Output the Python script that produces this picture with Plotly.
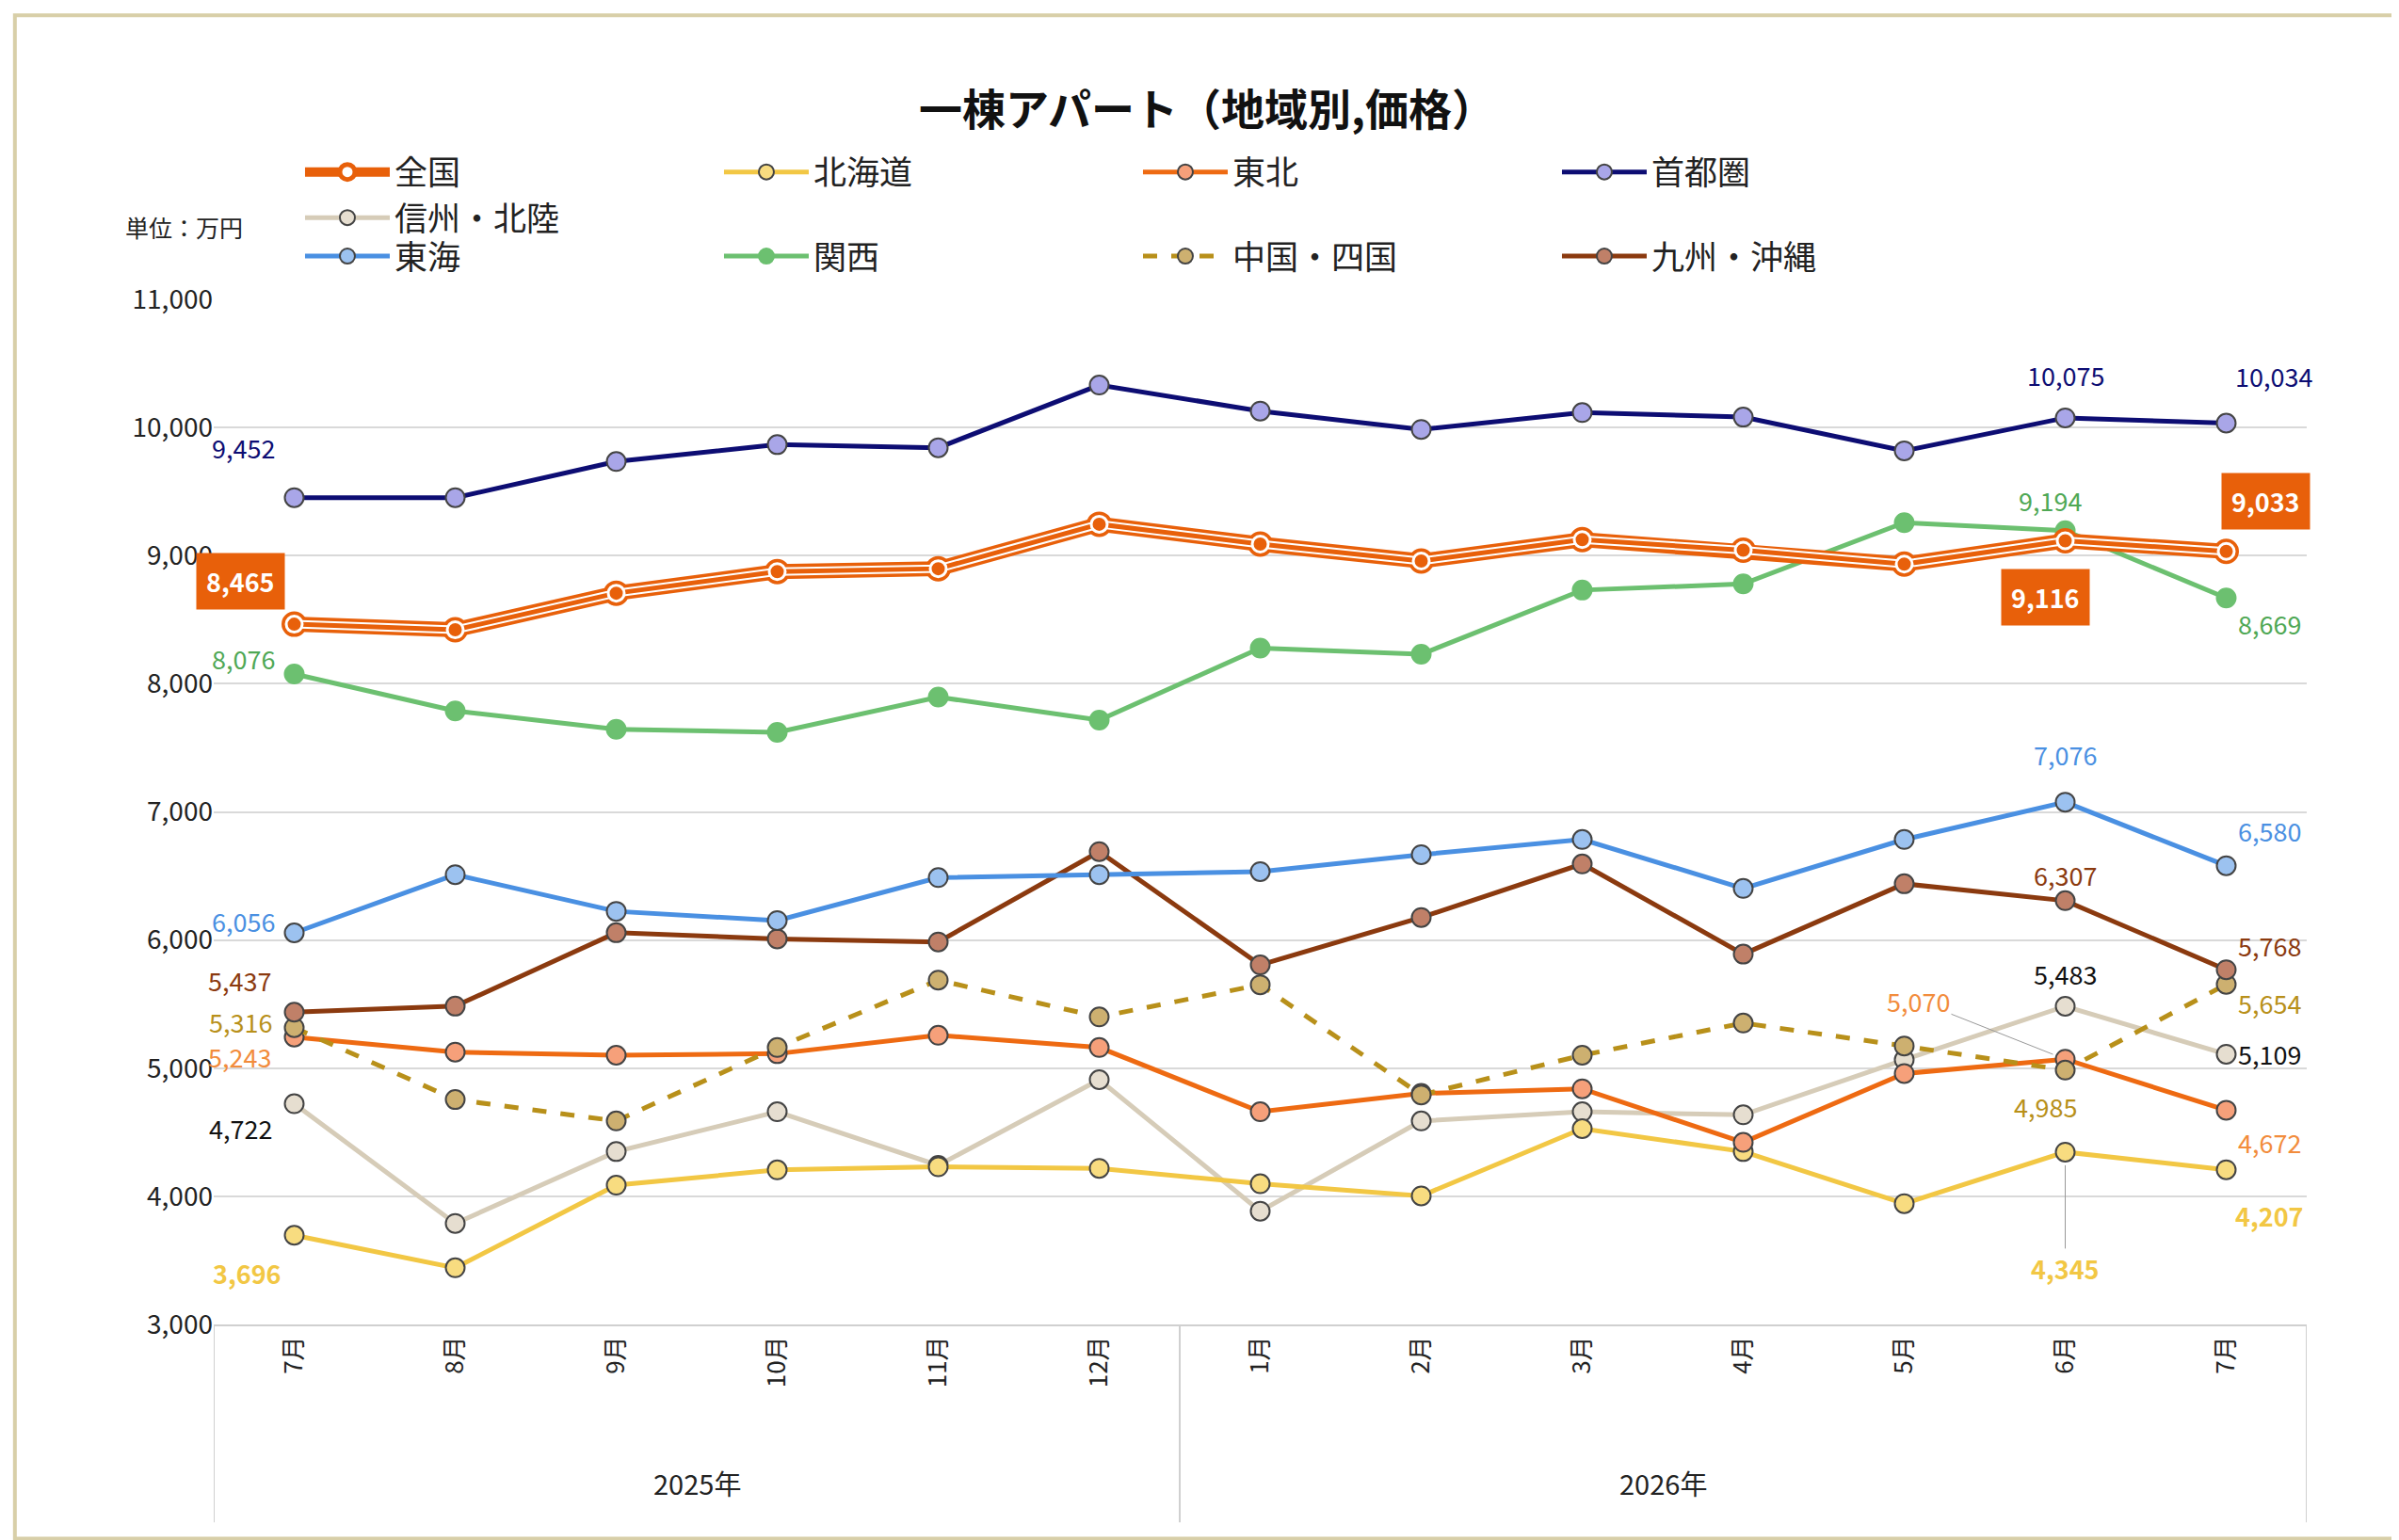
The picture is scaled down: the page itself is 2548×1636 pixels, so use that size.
import plotly.graph_objects as go

months = ["7月","8月","9月","10月","11月","12月","1月","2月","3月","4月","5月","6月","7月"]
years = ["2025年", "2026年"]
zenkoku = [8465,8421,8707,8875,8898,9245,9090,8958,9125,9042,8934,9116,9033]
hokkaido = [3696,3442,4087,4206,4230,4218,4098,4003,4528,4349,3943,4345,4207]
tohoku = [5243,5125,5101,5113,5257,5161,4660,4803,4839,4421,4958,5070,4672]
shutoken = [9452,9452,9734,9866,9842,10331,10128,9985,10116,10081,9818,10075,10034]
shinshu = [4722,3788,4349,4660,4242,4910,3884,4588,4660,4636,5066,5483,5109]
tokai = [6056,6510,6224,6152,6487,6510,6534,6666,6785,6403,6785,7076,6580]
kansai = [8076,7788,7645,7621,7896,7716,8278,8230,8731,8779,9257,9194,8669]
chugoku = [5316,4755,4588,5161,5687,5400,5651,4791,5101,5352,5173,4985,5654]
kyushu = [5437,5484,6057,6009,5985,6690,5806,6176,6594,5890,6439,6307,5768]

x = list(range(len(months)))
FONT = "Noto Sans CJK JP"
fig = go.Figure()

series = [
    ("全国", zenkoku, "#E8600A", "#FFFFFF", "solid", "legend"),
    ("北海道", hokkaido, "#F2C744", "#F8DC80", "solid", "legend"),
    ("東北", tohoku, "#EE6A12", "#F6A07A", "solid", "legend"),
    ("首都圏", shutoken, "#0D0D73", "#A9A6E8", "solid", "legend"),
    ("信州・北陸", shinshu, "#D6CCB8", "#E6DED0", "solid", "legend"),
    ("東海", tokai, "#4A90E2", "#9CC2F0", "solid", "legend2"),
    ("関西", kansai, "#6CC070", "#6CC070", "solid", "legend2"),
    ("中国・四国", chugoku, "#B8901A", "#CDB070", "dash", "legend2"),
    ("九州・沖縄", kyushu, "#8B3A0F", "#C08068", "solid", "legend2"),
]
order = [4,1,2,7,8,5,6,3,0]
for i in order:
    name, ys, c, mc, dash, lg = series[i]
    if name == "全国":
        fig.add_trace(go.Scatter(x=x, y=ys, name=name, mode="lines+markers", legend=lg,
            line=dict(color=c, width=16), marker=dict(size=22, color="white", line=dict(color=c, width=5)),
            legendrank=1))
        fig.add_trace(go.Scatter(x=x, y=ys, mode="lines", showlegend=False, hoverinfo="skip",
            line=dict(color="white", width=9)))
        fig.add_trace(go.Scatter(x=x, y=ys, mode="lines+markers", showlegend=False, hoverinfo="skip",
            line=dict(color=c, width=5), marker=dict(size=17, color=c, line=dict(color="white", width=3))))
    else:
        fig.add_trace(go.Scatter(x=x, y=ys, name=name, mode="lines+markers", legendrank=i+1, legend=lg,
            line=dict(color=c, width=5, dash=dash),
            marker=dict(size=20, color=mc, line=dict(color="#444" if name!="関西" else c, width=2))))

S = 1.625
labels = [
    (shutoken,0,-33,33,"#0D0D73",False,None),(shutoken,11,0,28,"#0D0D73",False,None),(shutoken,12,31,31,"#0D0D73",False,None),
    (zenkoku,0,-35,28,"white",False,"#E8600A"),(zenkoku,11,-13,-37,"white",False,"#E8600A"),(zenkoku,12,26,33,"white",False,"#E8600A"),
    (kansai,0,-33,10,"#4FA855",False,None),(kansai,11,-10,20,"#4FA855",False,None),(kansai,12,28,-17,"#4FA855",False,None),
    (tokai,0,-33,8,"#4A90E2",False,None),(tokai,11,0,31,"#4A90E2",False,None),(tokai,12,28,23,"#4A90E2",False,None),
    (kyushu,0,-36,21,"#8B3A0F",False,None),(kyushu,11,0,17,"#8B3A0F",False,None),(kyushu,12,28,16,"#8B3A0F",False,None),
    (chugoku,0,-35,4,"#B8901A",False,None),(chugoku,11,-13,-24,"#B8901A",False,None),(chugoku,12,28,-12,"#B8901A",False,None),
    (tohoku,0,-36,-13,"#F28C3C",False,None),(tohoku,12,28,-21,"#F28C3C",False,None),
    (shinshu,0,-35,-16,"#111111",False,None),(shinshu,11,0,21,"#111111",False,None),(shinshu,12,28,0,"#111111",False,None),
    (hokkaido,0,-31,-25,"#F2C744",True,None),(hokkaido,12,28,-30,"#F2C744",True,None),
]
anns = []
for ys,i,dx,dy,col,bold,box in labels:
    v = f"{ys[i]:,}"
    anns.append(dict(x=i, y=ys[i], text=f"<b>{v}</b>" if (bold or box) else v, showarrow=False,
        xshift=dx*S, yshift=dy*S, font=dict(family=FONT, size=27, color=col),
        bgcolor=box, borderpad=10 if box else 0))
anns.append(dict(x=11, y=tohoku[11], text=f"{tohoku[11]:,}", showarrow=True, arrowhead=0, arrowcolor="#999",
    ax=-96*S, ay=-38*S, standoff=14, font=dict(family=FONT, size=27, color="#F28C3C")))
anns.append(dict(x=11, y=hokkaido[11], text=f"<b>{hokkaido[11]:,}</b>", showarrow=True, arrowhead=0, arrowcolor="#999",
    ax=0, ay=76*S, standoff=14, font=dict(family=FONT, size=27, color="#F2C744")))
for j, yr in enumerate(years):
    anns.append(dict(x=2.5+6*j, y=-0.175, yref="paper", text=yr, showarrow=False,
        font=dict(family=FONT, size=29, color="#222")))
anns.append(dict(x=-0.043, y=1.089, xref="paper", yref="paper", text="単位：万円", showarrow=False,
    font=dict(family=FONT, size=25, color="#222")))

shapes = []
for xv in [-0.5, 5.5, 12.5]:
    shapes.append(dict(type="line", x0=xv, x1=xv, xref="x", yref="paper", y0=0, y1=-0.193,
        line=dict(color="#D0D0D0", width=2)))
shapes.append(dict(type="rect", xref="paper", yref="paper", x0=-0.095, x1=1.044, y0=-0.209, y1=1.277,
    line=dict(color="#D8CFA8", width=4)))

leg = dict(orientation="h", xanchor="left", yanchor="middle", entrywidth=340, entrywidthmode="pixels",
    font=dict(family=FONT, size=35, color="#222"), itemwidth=90, traceorder="normal", bgcolor="rgba(0,0,0,0)")
fig.update_layout(
    width=2548, height=1636, paper_bgcolor="white", plot_bgcolor="white",
    margin=dict(l=219, r=106, t=310, b=237),
    title=dict(text="<b>一棟アパート（地域別,価格）</b>", x=0.5, y=0.943, xanchor="center",
        font=dict(family=FONT, size=46, color="#111")),
    font=dict(family=FONT, size=28, color="#222"),
    legend=dict(leg, x=0.045, y=1.102),
    legend2=dict(leg, x=0.045, y=1.042),
    xaxis=dict(range=[-0.5, 12.5], tickmode="array", tickvals=x, ticktext=months, tickangle=-90,
        showgrid=False, showline=True, linecolor="#D0D0D0", linewidth=2, zeroline=False,
        tickfont=dict(family=FONT, size=26, color="#222")),
    yaxis=dict(range=[3000, 11000], dtick=1000, tickformat=",", showgrid=True, gridcolor="#D9D9D9",
        gridwidth=2, zeroline=False, tickfont=dict(family=FONT, size=28, color="#222")),
    annotations=anns, shapes=shapes, showlegend=True,
)
fig.write_html("out.html")
